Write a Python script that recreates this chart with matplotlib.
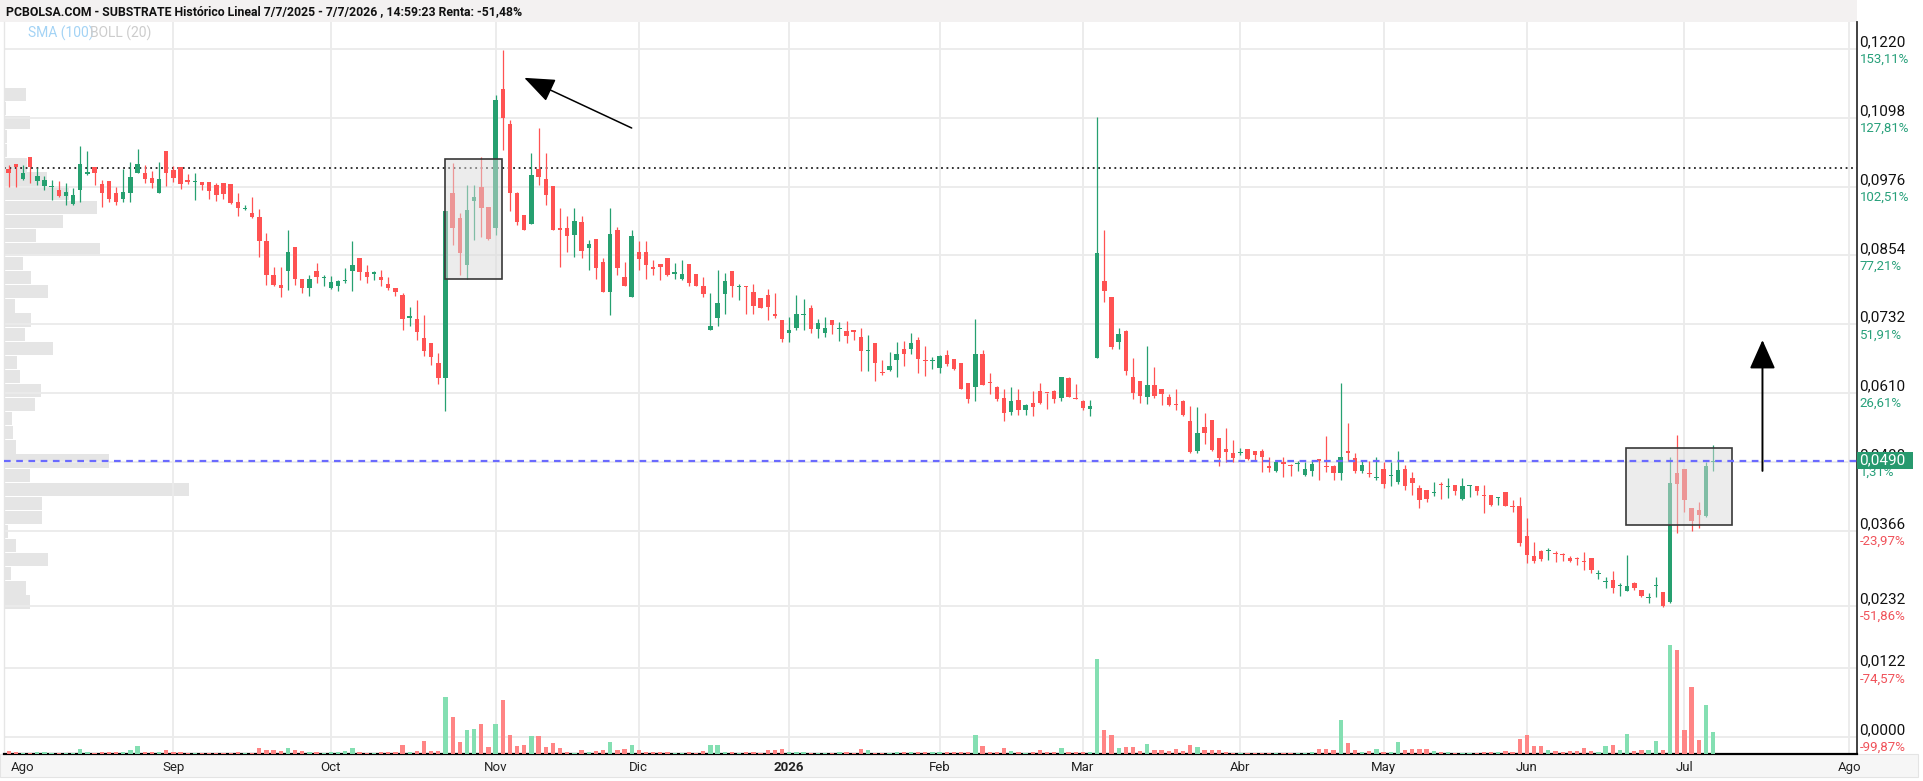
import numpy as np
import matplotlib.pyplot as plt
import matplotlib.transforms as mtransforms
from matplotlib.patches import Rectangle, FancyArrowPatch

plt.rcParams['font.family'] = ['Roboto', 'DejaVu Sans']

W, H = 1923, 781

# daily candles, trading-day index: -2 = 29/7/2025, 0 = 1/8/2025 ... 236 = 7/7/2026
# prices in 1/10000 EUR
opens = [1008, 1016, 990, 1029, 986, 977, 975, 970, 959, 945,
         970, 998, 1010, 981, 986, 965, 954, 965, 1001, 1001,
         991, 965, 1040, 1006, 1010, 988, 984, 985, 985, 979,
         982, 981, 949, 936, 930, 923, 880, 819, 802, 826,
         869, 813, 797, 827, 814, 797, 800, 808, 826, 850,
         824, 822, 816, 803, 796, 784, 744, 741, 707, 698,
         663, 636, 964, 920, 837, 951, 976, 940, 902, 1149,
         1088, 965, 926, 909, 1008, 989, 977, 902, 902, 890,
         914, 867, 883, 843, 790, 899, 815, 781, 861, 861,
         834, 838, 850, 822, 812, 838, 821, 800, 722, 744,
         786, 827, 798, 800, 789, 778, 784, 750, 740, 716,
         726, 748, 760, 723, 716, 740, 723, 720, 721, 710,
         684, 699, 648, 651, 669, 689, 689, 705, 669, 667,
         654, 677, 671, 663, 627, 620, 679, 630, 620, 601,
         577, 598, 580, 592, 614, 611, 614, 602, 636, 601,
         596, 581, 673, 809, 781, 700, 720, 639, 631, 603,
         625, 618, 603, 591, 596, 561, 507, 549, 563, 530,
         510, 503, 503, 510, 508, 507, 481, 472, 488, 482,
         484, 465, 472, 493, 481, 481, 469, 508, 494, 472,
         469, 460, 475, 463, 452, 475, 459, 442, 439, 432,
         448, 443, 447, 422, 445, 445, 429, 429, 424, 435,
         410, 410, 356, 321, 330, 330, 326, 323, 317, 317,
         312, 317, 289, 275, 278, 268, 259, 274, 261, 247,
         268, 257, 240, 468, 476, 406, 403, 392, 487]
highs = [1014, 1016, 1014, 1029, 1009, 995, 988, 986, 983, 973,
         1048, 1039, 1010, 987, 986, 975, 1008, 1019, 1043, 1014,
         1004, 1019, 1040, 1013, 1010, 998, 1000, 985, 985, 982,
         983, 981, 964, 943, 957, 936, 894, 834, 834, 899,
         869, 813, 819, 840, 819, 817, 810, 831, 880, 850,
         837, 827, 828, 816, 797, 787, 763, 775, 748, 698,
         681, 932, 1018, 929, 979, 979, 1028, 940, 1138, 1218,
         1094, 967, 926, 1035, 1080, 1035, 977, 938, 924, 939,
         924, 881, 883, 849, 939, 904, 843, 899, 880, 880,
         846, 838, 850, 840, 846, 838, 821, 815, 787, 828,
         823, 827, 803, 800, 803, 778, 794, 788, 740, 745,
         784, 776, 766, 741, 745, 740, 736, 738, 721, 725,
         713, 699, 669, 682, 700, 703, 716, 710, 693, 674,
         677, 686, 671, 663, 627, 742, 686, 646, 622, 617,
         620, 617, 591, 614, 628, 611, 615, 639, 638, 626,
         598, 598, 1100, 899, 781, 725, 722, 673, 631, 694,
         657, 618, 609, 618, 598, 587, 585, 575, 563, 530,
         548, 527, 512, 510, 508, 510, 496, 491, 496, 485,
         490, 488, 492, 493, 533, 482, 628, 557, 504, 492,
         489, 496, 488, 488, 507, 482, 470, 447, 439, 453,
         453, 460, 447, 460, 447, 445, 447, 429, 426, 435,
         420, 426, 388, 346, 332, 335, 330, 326, 321, 320,
         329, 317, 297, 284, 295, 273, 323, 275, 261, 256,
         284, 257, 496, 536, 476, 406, 417, 488, 518]
lows = [976, 976, 988, 982, 979, 970, 952, 958, 943, 943,
        949, 997, 979, 940, 949, 943, 949, 949, 1000, 983,
        973, 964, 977, 985, 971, 981, 952, 970, 955, 951,
        954, 946, 924, 935, 920, 852, 802, 800, 781, 793,
        802, 787, 782, 805, 799, 795, 791, 805, 791, 810,
        805, 810, 800, 793, 782, 722, 729, 704, 676, 660,
        626, 579, 872, 819, 812, 882, 887, 881, 890, 1041,
        932, 908, 899, 909, 979, 943, 899, 834, 861, 852,
        849, 828, 813, 790, 748, 819, 800, 781, 828, 813,
        819, 810, 817, 813, 810, 800, 799, 780, 721, 729,
        750, 780, 775, 751, 750, 760, 740, 744, 700, 700,
        722, 721, 716, 707, 710, 715, 703, 698, 705, 650,
        650, 632, 642, 650, 638, 658, 680, 645, 640, 652,
        645, 658, 651, 618, 592, 596, 624, 609, 596, 560,
        571, 571, 571, 569, 591, 581, 592, 596, 603, 599,
        580, 569, 673, 772, 689, 689, 642, 599, 592, 590,
        602, 589, 587, 580, 569, 503, 503, 519, 507, 481,
        488, 488, 500, 491, 492, 470, 470, 470, 461, 463,
        472, 463, 463, 456, 470, 456, 456, 490, 468, 468,
        462, 456, 442, 445, 449, 438, 429, 406, 417, 427,
        422, 424, 429, 420, 426, 430, 398, 410, 411, 409,
        400, 338, 308, 309, 313, 314, 310, 313, 311, 305,
        296, 291, 281, 265, 255, 250, 259, 261, 249, 237,
        248, 230, 238, 361, 400, 366, 370, 390, 472]
closes = [1001, 1011, 1001, 1010, 995, 988, 977, 959, 967, 962,
          1016, 1002, 1001, 965, 954, 949, 967, 994, 1016, 990,
          983, 989, 1001, 992, 981, 985, 986, 979, 968, 961,
          963, 947, 939, 939, 923, 880, 819, 802, 796, 861,
          813, 797, 812, 815, 816, 807, 809, 810, 837, 824,
          815, 824, 810, 796, 790, 741, 747, 719, 685, 674,
          636, 932, 902, 859, 934, 958, 938, 884, 1130, 1097,
          965, 914, 900, 997, 994, 961, 900, 900, 888, 916,
          862, 874, 831, 790, 892, 831, 800, 889, 848, 837,
          830, 833, 819, 825, 821, 805, 800, 786, 729, 769,
          809, 799, 800, 798, 765, 760, 762, 747, 706, 721,
          750, 750, 723, 734, 726, 731, 725, 711, 719, 685,
          686, 663, 646, 658, 680, 679, 698, 670, 667, 669,
          676, 661, 653, 618, 599, 679, 625, 628, 599, 574,
          596, 580, 589, 586, 593, 610, 599, 638, 603, 599,
          583, 587, 858, 791, 691, 714, 649, 611, 605, 625,
          605, 608, 589, 588, 571, 505, 540, 540, 509, 494,
          505, 494, 505, 493, 500, 497, 478, 488, 485, 481,
          486, 475, 485, 489, 479, 469, 496, 504, 472, 482,
          466, 462, 449, 465, 473, 445, 450, 420, 423, 435,
          447, 445, 437, 445, 447, 437, 427, 411, 426, 410,
          408, 344, 323, 313, 315, 332, 325, 322, 312, 316,
          311, 297, 291, 277, 265, 270, 268, 265, 251, 248,
          270, 233, 450, 449, 420, 384, 394, 481, 490]
# volume, relative units
volume = [3, 1.7, 1.5, 1.5, 2, 2, 1, 1, 1.5, 1,
          5, 2, 1, 2.5, 2, 2, 2, 4, 8, 2,
          2, 2, 4, 2, 2, 1, 1.5, 1, 1.5, 1.5,
          1, 1.5, 2.5, 1, 1.5, 6, 4, 4, 3, 6,
          4, 3, 2, 2, 1, 2, 2, 3, 6, 2,
          1, 1, 2, 2, 2, 9, 2, 3, 13, 3,
          3, 57, 37, 12, 24, 25, 30, 7, 30, 54,
          19, 8, 9, 18, 18, 7, 11, 6, 2.5, 1.5,
          4, 2.5, 3, 4, 12, 4, 5, 9, 4, 2.5,
          2, 2, 2, 1, 1, 2, 1.5, 3, 9, 9,
          2.5, 2, 1, 2, 2.5, 1.5, 4, 4, 5, 2.5,
          2, 2, 1.5, 1.5, 1.5, 1.5, 2, 2, 1, 5,
          4, 1.5, 1, 1, 2, 2, 2.5, 2.5, 2, 2,
          2.5, 2, 2, 2, 2, 19, 8, 2, 2, 6,
          3, 2, 1, 2.5, 4, 2, 2, 6, 2.5, 2.5,
          2.5, 2.5, 95, 24, 19, 6, 7, 7, 3.5, 10,
          4, 4, 3, 5, 3, 9, 7, 4, 4, 4,
          2.5, 1, 1.5, 1, 1.5, 1.5, 1, 1, 1.5, 1,
          1, 1, 2, 5, 5, 4, 34, 11, 4, 2.5,
          3, 5, 2.5, 2, 12, 4, 5, 5, 5, 3.5,
          2.5, 2.5, 1, 1.5, 1, 1, 2.5, 2, 2, 3,
          2.5, 15, 19, 8, 8, 4, 3, 2.5, 3, 3,
          6, 3.5, 2, 8, 9, 4, 20, 3, 4, 4.5,
          13, 4, 109, 104, 24, 67, 14, 49, 22]

# volume profile (price bins of 0.0025 starting at 0.0227)
profile_vol = [26, 22, 7, 44, 12, 4, 38, 38, 185, 26,
               105, 12, 9, 8, 31, 37, 16, 13, 49, 21,
               27, 11, 44, 27, 19, 96, 32, 59, 93, 65,
               43, 23, 3, 3, 26, 2, 22, 0]
profile_start, profile_step = 0.0227, 0.0025

# trading days per month, Ago 2025 .. Jul 2026
month_days = [21, 22, 23, 20, 21, 21, 20, 22, 20, 20, 22, 23]
month_labels = ["Ago", "Sep", "Oct", "Nov", "Dic", "2026", "Feb", "Mar",
                "Abr", "May", "Jun", "Jul", "Ago"]

price_ticks = [0.1220, 0.1098, 0.0976, 0.0854, 0.0732, 0.0610, 0.0488,
               0.0366, 0.0232, 0.0122, 0.0000]
price_labels = ["0,1220", "0,1098", "0,0976", "0,0854", "0,0732", "0,0610",
                "0,0488", "0,0366", "0,0232", "0,0122", "0,0000"]
pct_labels = ["153,11%", "127,81%", "102,51%", "77,21%", "51,91%", "26,61%",
              "1,31%", "-23,97%", "-51,86%", "-74,57%", "-99,87%"]

last_price = 0.0490
year_ago_price = 0.1009

GREEN, RED = '#26a070', '#ff5252'
VGREEN, VRED = '#84dfb2', '#ff8585'

o = np.array(opens) / 10000
h = np.array(highs) / 10000
lo = np.array(lows) / 10000
c = np.array(closes) / 10000
vol = np.array(volume)
x = np.arange(len(o)) - 2
up = c >= o

fig = plt.figure(figsize=(W / 100, H / 100), dpi=100)


def px_rect(x0, y0, x1, y1):
    return [x0 / W, 1 - y1 / H, (x1 - x0) / W, (y1 - y0) / H]


# bands
fig.add_artist(Rectangle((0, 1 - 22 / H), 1857 / W, 22 / H, transform=fig.transFigure,
                         facecolor='#f3f1f1', edgecolor='none', zorder=0))
fig.add_artist(Rectangle((0, 1 - 777 / H), 1918 / W, 23 / H, transform=fig.transFigure,
                         facecolor='#f6f6f6', edgecolor='#e4e4e4', lw=0.8, zorder=0))
fig.text(6 / W, 1 - 12 / H,
         "PCBOLSA.COM - SUBSTRATE Histórico Lineal 7/7/2025 - 7/7/2026 , 14:59:23 Renta: -51,48%",
         fontsize=8.8, fontweight='bold', color='#111111', va='center', ha='left')
fig.text(28 / W, 1 - 33 / H, "SMA (100)", fontsize=10, color='#a3d3f5', va='center')
fig.text(90 / W, 1 - 33 / H, "BOLL (20)", fontsize=10, color='#cccccc', va='center')

rect = px_rect(4, 22, 1857, 754)
xlim = (-2.65, 256.1)
ylim = (-0.0030, 0.1268)

# volume profile behind everything
ax_prof = fig.add_axes(rect, zorder=0)
centers = profile_start + profile_step * (np.arange(len(profile_vol)) + 0.5)
ax_prof.barh(centers, profile_vol, height=profile_step * 0.94, left=0, color='#e5e5e5')
ax_prof.set_ylim(ylim)
ax_prof.set_xlim(0, max(profile_vol) / 0.0998)
ax_prof.axis('off')

ax = fig.add_axes(rect, zorder=1)
ax.patch.set_visible(False)
ax.set_xlim(xlim)
ax.set_ylim(ylim)

month_ticks = np.concatenate([[0], np.cumsum(month_days)])
ax.set_xticks(month_ticks)
ax.set_xticklabels(month_labels)
ax.get_xticklabels()[5].set_fontweight('bold')
ax.set_yticks(price_ticks)
ax.tick_params(axis='y', length=0, labelleft=False)
ax.tick_params(axis='x', length=0, labelsize=9.5, pad=5, labelcolor='#222222')
ax.grid(True, color='#ebebeb', lw=1.3)
ax.get_xgridlines()[0].set_visible(False)
ax.set_axisbelow(True)
ax.spines['top'].set_visible(False)
ax.spines['left'].set_color('#e6e6e6')
ax.spines['left'].set_linewidth(1.0)
ax.spines['right'].set_color('#333333')
ax.spines['right'].set_linewidth(1.3)
ax.spines['bottom'].set_color('#000000')
ax.spines['bottom'].set_linewidth(1.6)

# candles
cols = np.where(up, GREEN, RED)
ax.vlines(x, lo, h, colors=cols, lw=0.9, zorder=3)
body = np.maximum(np.abs(c - o), 0.00018)
ax.bar(x, body, bottom=np.minimum(o, c), width=0.62, color=cols, lw=0, zorder=4)

# reference lines
ax.axhline(year_ago_price, color='#222222', lw=1.3, ls=(0, (1, 2)), zorder=2)
ax.axhline(last_price, color='#6a6aff', lw=1.6, ls=(0, (3, 2.5)), zorder=6)

# highlight boxes
for (bx0, bx1, by0, by1) in [(59.0, 66.9, 0.0812, 0.1025), (223.8, 238.7, 0.0376, 0.0512)]:
    ax.add_patch(Rectangle((bx0, by0), bx1 - bx0, by1 - by0,
                           facecolor=(0.86, 0.86, 0.86, 0.5), edgecolor='#383838',
                           lw=1.2, zorder=5))

# arrows
ax.add_patch(FancyArrowPatch((85.0, 0.1080), (70.0, 0.1169),
                             arrowstyle='-|>,head_length=19,head_width=7.5',
                             mutation_scale=1, color='black', lw=1.1,
                             shrinkA=0, shrinkB=0, zorder=7))
ax.add_patch(FancyArrowPatch((242.9, 0.0472), (242.9, 0.0704),
                             arrowstyle='-|>,head_length=18,head_width=8',
                             mutation_scale=1, color='black', lw=1.4,
                             shrinkA=0, shrinkB=0, zorder=7))

# right-hand price / percent labels
trans = mtransforms.blended_transform_factory(ax.transAxes, ax.transData)
t_up = mtransforms.offset_copy(trans, fig=fig, y=2.5, units='dots')
t_dn = mtransforms.offset_copy(trans, fig=fig, y=-14, units='dots')
xl = 1 + 2.5 / 1853
for v, pl, pc in zip(price_ticks, price_labels, pct_labels):
    ax.text(xl, v, pl, transform=t_up, va='baseline', ha='left', fontsize=11,
            color='#111111', zorder=8)
    ax.text(xl, v, pc, transform=t_dn, va='baseline', ha='left', fontsize=9.5,
            color='#f0525a' if pc.startswith('-') else '#27a07a', zorder=8)

ax.add_patch(Rectangle((1.0, last_price - 0.00152), 56 / 1853, 0.00304, transform=trans,
                       facecolor='#27996e', edgecolor='none', clip_on=False, zorder=9))
ax.text(xl, last_price, "0,0490", transform=trans, va='center', ha='left',
        fontsize=11, color='white', zorder=10)

# volume bars
ax_vol = fig.add_axes(rect, zorder=2, sharex=ax)
ax_vol.patch.set_visible(False)
ax_vol.bar(x, vol, width=0.6, color=np.where(up, VGREEN, VRED), lw=0)
ax_vol.set_ylim(0, vol.max() * 734 / 109)
ax_vol.axis('off')
ax_vol.set_xlim(xlim)

fig.savefig('out.png', dpi=100)
